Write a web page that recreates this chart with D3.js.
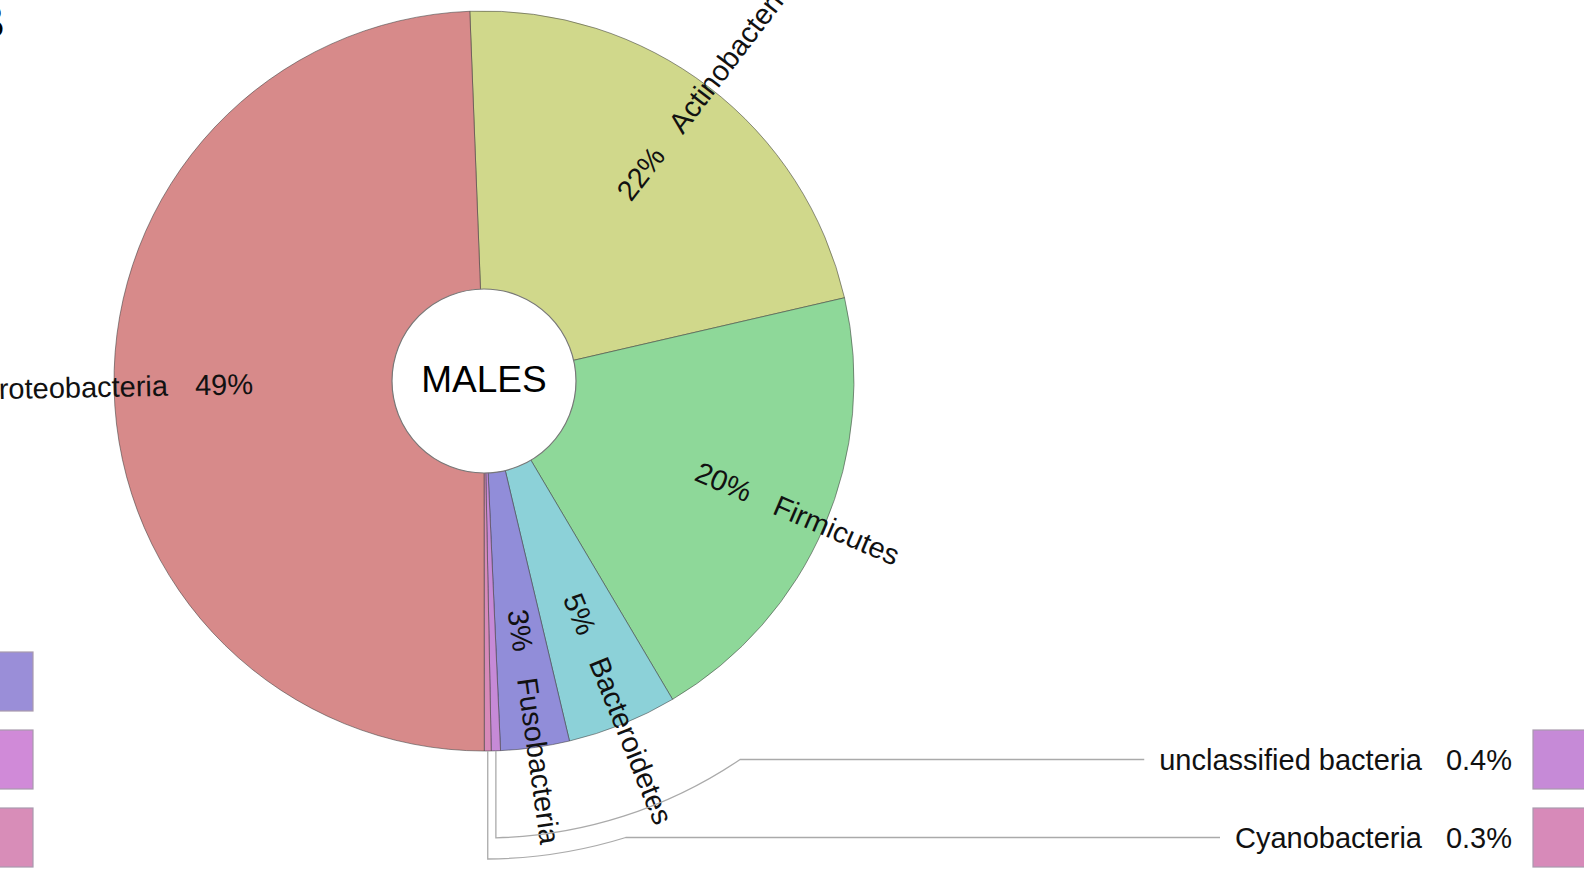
<!DOCTYPE html>
<html>
<head>
<meta charset="utf-8">
<script src="https://cdn.jsdelivr.net/npm/d3@7"></script>
<style>
  html, body { margin: 0; padding: 0; background: #fff; overflow: hidden; }
  svg { display: block; font-family: "Liberation Sans", Arial, Helvetica, sans-serif; }
</style>
</head>
<body>
<svg id="chart" width="1584" height="878"></svg>
<script>
// ---- data ----
const categories = ["Actinobacteria", "Firmicutes", "Bacteroidetes", "Fusobacteria", "unclassified bacteria", "Cyanobacteria", "Proteobacteria"];
const values     = [22.0, 20.1, 4.8, 3.0, 0.4, 0.3, 49.4];
const colors     = ["#d0d88b", "#8ed899", "#8cd1d8", "#918dd9", "#c68ad7", "#d78ab9", "#d78a8a"];
const centerTitle = "MALES";
// swatches of the neighbouring (cropped) legend on the left
const leftSwatchColors = ["#9a8ed8", "#d08ad8", "#d88db8"];
const panelLetter = "B";

// ---- layout ----
const W = 1584, H = 878;
const cx = 484, cy = 381;
const outerR = 370, innerR = 92;
const labelR = 231;
const fontSize = 29;
const startDeg = -2.2;

const svg = d3.select("#chart");
const g = svg.append("g").attr("transform", `translate(${cx},${cy})`);

const data = categories.map((c, i) => ({ name: c, value: values[i], color: colors[i] }));
const pie = d3.pie().sort(null).value(d => d.value)
  .startAngle(startDeg * Math.PI / 180)
  .endAngle(startDeg * Math.PI / 180 + 2 * Math.PI);
const arcs = pie(data);
const arc = d3.arc().innerRadius(0).outerRadius(outerR);

const fmtPct = v => v >= 1 ? Math.round(v) + "%" : v.toFixed(1) + "%";

// wedges
g.selectAll("path.wedge").data(arcs).join("path")
  .attr("class", "wedge")
  .attr("d", arc)
  .attr("fill", d => d.data.color)
  .attr("stroke", "rgba(60,60,60,0.55)")
  .attr("stroke-width", 1);

// center circle
g.append("circle").attr("r", innerR).attr("fill", "#fff").attr("stroke", "#777").attr("stroke-width", 1.2);
g.append("text").text(centerTitle)
  .attr("text-anchor", "middle").attr("dominant-baseline", "central")
  .attr("y", -2)
  .attr("font-size", 37).attr("fill", "#000");

// radial labels for large wedges
const big = arcs.filter(d => d.data.value >= 1);
big.forEach(d => {
  const mid = (d.startAngle + d.endAngle) / 2;
  let deg = mid * 180 / Math.PI;
  deg = ((deg % 360) + 360) % 360;
  const right = deg < 180;
  const t = g.append("text")
    .attr("transform", `rotate(${right ? deg - 90 : deg + 90})`)
    .attr("x", right ? labelR : -labelR)
    .attr("dy", "-0.05em")
    .attr("text-anchor", right ? "start" : "end")
    .attr("dominant-baseline", "central")
    .attr("font-size", fontSize).attr("fill", "#111");
  if (right) {
    t.append("tspan").text(fmtPct(d.data.value));
    t.append("tspan").attr("dx", 27).text(d.data.name);
  } else {
    t.append("tspan").text(d.data.name);
    t.append("tspan").attr("dx", 27).text(fmtPct(d.data.value));
  }
});

// small wedges -> external legend with leader lines
const small = arcs.filter(d => d.data.value < 1);
const rowStep = 78, rowBottom = 837.5, swatch = 59;
const pctRight = 1512, nameRight = 1422, swatchX = 1533;
small.forEach((d, i) => {
  const rowY = rowBottom - (small.length - 1 - i) * rowStep;
  const mid = (d.startAngle + d.endAngle) / 2;
  const x0 = outerR * Math.sin(mid);
  const y0 = -outerR * Math.cos(mid);
  const rLead = outerR + 87 + i * 21;
  const y1 = Math.sqrt(rLead * rLead - x0 * x0);
  const ry = rowY - cy;
  const x2 = Math.sqrt(rLead * rLead - ry * ry);

  svg.append("text").text(fmtPct(d.data.value))
    .attr("x", pctRight).attr("y", rowY)
    .attr("text-anchor", "end").attr("dominant-baseline", "central")
    .attr("font-size", fontSize).attr("fill", "#111");
  const nameT = svg.append("text").text(d.data.name)
    .attr("x", nameRight).attr("y", rowY)
    .attr("text-anchor", "end").attr("dominant-baseline", "central")
    .attr("font-size", fontSize).attr("fill", "#111");
  const nameStart = nameRight - nameT.node().getComputedTextLength();
  const lineEnd = nameStart - 15 - cx;

  g.append("path")
    .attr("d", `M${x0},${y0} L${x0},${y1} A${rLead},${rLead} 0 0 0 ${x2},${ry} L${lineEnd},${ry}`)
    .attr("fill", "none").attr("stroke", "#aaa").attr("stroke-width", 1.3);

  svg.append("rect")
    .attr("x", swatchX).attr("y", rowY - swatch / 2)
    .attr("width", swatch).attr("height", swatch)
    .attr("fill", d.data.color).attr("stroke", "#a99aae").attr("stroke-width", 1.2);
});

// cropped swatches from the neighbouring legend (left edge)
leftSwatchColors.forEach((c, i) => {
  const rowY = rowBottom - (leftSwatchColors.length - 1 - i) * rowStep;
  svg.append("rect")
    .attr("x", 33 - swatch).attr("y", rowY - swatch / 2)
    .attr("width", swatch).attr("height", swatch)
    .attr("fill", c).attr("stroke", "#a99aae").attr("stroke-width", 1.2);
});

// cropped panel letter at top-left
svg.append("text").text(panelLetter)
  .attr("x", 5).attr("y", 38).attr("text-anchor", "end")
  .attr("font-size", 48).attr("fill", "#000");
</script>
</body>
</html>
